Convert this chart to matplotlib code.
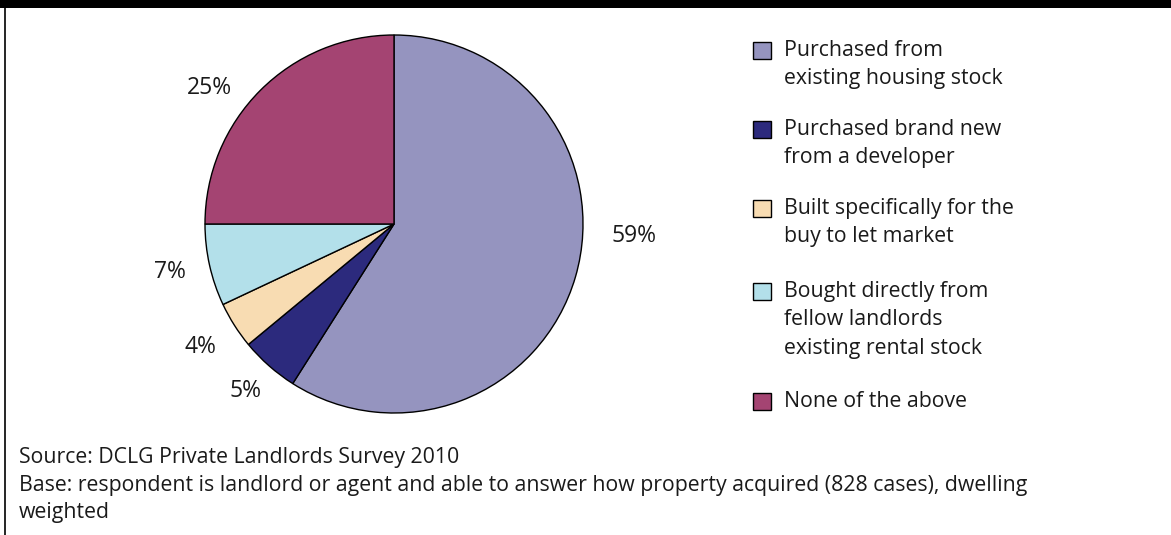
import matplotlib
matplotlib.use('Agg')
import matplotlib.pyplot as plt
from matplotlib.patches import Rectangle

plt.rcParams['font.family'] = ['Open Sans', 'DejaVu Sans']

categories = ['Purchased from\nexisting housing stock',
              'Purchased brand new\nfrom a developer',
              'Built specifically for the\nbuy to let market',
              'Bought directly from\nfellow landlords\nexisting rental stock',
              'None of the above']
values = [59, 5, 4, 7, 25]
colors = ['#9594BF', '#2C2A7D', '#F8DCB2', '#B3E0EA', '#A44472']
pct_labels = ['59%', '5%', '4%', '7%', '25%']
source_lines = ['Source: DCLG Private Landlords Survey 2010',
                'Base: respondent is landlord or agent and able to answer how property acquired (828 cases), dwelling',
                'weighted']

W, H = 1171, 535
fig = plt.figure(figsize=(W / 100, H / 100), dpi=100)
fs = 15.3
fs_pct = 16.5


def fx(px):
    return px / W


def fy(py):
    return 1 - py / H


# black bar at top and left rule
fig.patches.append(Rectangle((0, fy(8)), 1, 8 / H, transform=fig.transFigure,
                             facecolor='black', edgecolor='none'))
fig.add_artist(plt.Line2D([fx(4.5), fx(4.5)], [0, fy(8)], color='black', lw=1.2))

# pie
cx, cy, r = 394, 224, 189
ax = fig.add_axes([fx(cx - r), fy(cy + r), 2 * r / W, 2 * r / H])
ax.pie(values, colors=colors, startangle=90, counterclock=False,
       wedgeprops=dict(edgecolor='black', linewidth=1.0))
ax.set_xlim(-1, 1)
ax.set_ylim(-1, 1)
ax.set_aspect('equal')
ax.axis('off')

# label positions in pie radius units
label_pos = [(1.27, -0.063), (-0.788, -0.884), (-1.026, -0.651), (-1.185, -0.254), (-0.974, 0.72)]
for lab, (lx, ly) in zip(pct_labels, label_pos):
    ax.text(lx, ly, lab, ha='center', va='center', fontsize=fs_pct, color='#1a1a1a', clip_on=False)

# legend
first_baselines = [56, 135, 214, 297, 407]
line_gap = 28.3
for cat, col, base in zip(categories, colors, first_baselines):
    fig.patches.append(Rectangle((fx(753), fy(base + 3)), 18 / W, 17 / H, transform=fig.transFigure,
                                 facecolor=col, edgecolor='black', linewidth=1.0))
    for i, line in enumerate(cat.split('\n')):
        fig.text(fx(784), fy(base + i * line_gap), line, ha='left', va='baseline',
                 fontsize=fs, color='#1a1a1a')

# source text
for i, line in enumerate(source_lines):
    fig.text(fx(19), fy(463 + i * 27.5), line, ha='left', va='baseline',
             fontsize=fs, color='#1a1a1a')

fig.savefig('out.png', dpi=100)
